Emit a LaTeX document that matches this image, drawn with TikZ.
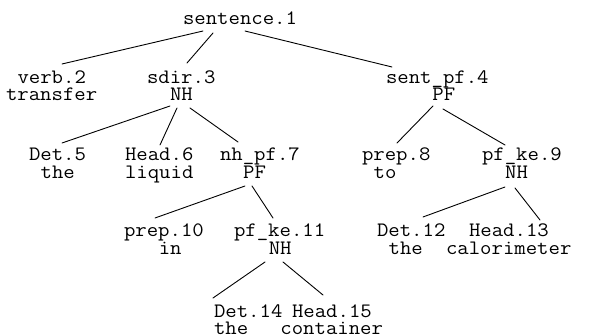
\documentclass[tikz,border=0pt]{standalone}
\usepackage{fontspec}
\usepackage{graphicx}

% one text line of the parse tree, stretched typewriter type
\newcommand\wide[1]{\scalebox{1.08}[1]{#1}}

\tikzset{
  lbl/.style={anchor=base west, inner sep=0pt, outer sep=0pt,
              font=\ttfamily\fontsize{20.5}{20.5}\selectfont\addfontfeatures{FakeBold=1.2}},
  link/.style={line width=0.9pt, line cap=round}
}

% connector from a point on one label to a point on another,
% offsets measured from each label's base west anchor
\newcommand\branch[6]{%
  \draw[link] ([shift={(#2,#3)}]#1.base west) -- ([shift={(#5,#6)}]#4.base west);}

\begin{document}
\begin{tikzpicture}[x=1pt, y=-1pt]
  \useasboundingbox (0,0) rectangle (599,336);

  % level 1
  \node[lbl] (s1)  at (183,25)   {\wide{sentence.1}};

  % level 2
  \node[lbl] (v2)  at (17.5,84)  {\wide{verb.2}};
  \node[lbl] (v2c) at (6,101)    {\wide{transfer}};
  \node[lbl] (d3)  at (147,84)   {\wide{sdir.3}};
  \node[lbl] (d3c) at (170,101)  {\wide{NH}};
  \node[lbl] (p4)  at (386,84)   {\wide{sent\_pf.4}};
  \node[lbl] (p4c) at (432.4,101){\wide{PF}};

  % level 3
  \node[lbl] (t5)  at (29,161)   {\wide{Det.5}};
  \node[lbl] (t5c) at (40.6,179) {\wide{the}};
  \node[lbl] (h6)  at (125,161)  {\wide{Head.6}};
  \node[lbl] (h6c) at (125,179)  {\wide{liquid}};
  \node[lbl] (n7)  at (220,161)  {\wide{nh\_pf.7}};
  \node[lbl] (n7c) at (243.2,179){\wide{PF}};
  \node[lbl] (r8)  at (362,161)  {\wide{prep.8}};
  \node[lbl] (r8c) at (373.6,179){\wide{to}};
  \node[lbl] (k9)  at (482,161)  {\wide{pf\_ke.9}};
  \node[lbl] (k9c) at (505.2,179){\wide{NH}};

  % level 4
  \node[lbl] (r10)  at (124,237)   {\wide{prep.10}};
  \node[lbl] (r10c) at (158.8,255) {\wide{in}};
  \node[lbl] (k11)  at (234,237)   {\wide{pf\_ke.11}};
  \node[lbl] (k11c) at (268.8,255) {\wide{NH}};
  \node[lbl] (t12)  at (377,237)   {\wide{Det.12}};
  \node[lbl] (t12c) at (388.6,255) {\wide{the}};
  \node[lbl] (h13)  at (469,237)   {\wide{Head.13}};
  \node[lbl] (h13c) at (446,255)   {\wide{calorimeter}};

  % level 5
  \node[lbl] (t14)  at (214,317.5) {\wide{Det.14}};
  \node[lbl] (t14c) at (214,334)   {\wide{the}};
  \node[lbl] (h15)  at (292,317.5) {\wide{Head.15}};
  \node[lbl] (h15c) at (280.4,334) {\wide{container}};

  % branches
  \branch{s1}{20}{6}{v2}{44.5}{-20}
  \branch{s1}{30}{8}{d3}{40}{-21}
  \branch{s1}{62}{6}{p4}{6}{-17}

  \branch{d3c}{0}{5}{t5}{33}{-18}
  \branch{d3c}{7}{7}{h6}{35}{-16}
  \branch{d3c}{20}{7}{n7}{18}{-19}

  \branch{p4c}{0.6}{5}{r8}{35}{-18}
  \branch{p4c}{10.6}{8}{k9}{23}{-16}

  \branch{n7c}{1.8}{7}{r10}{31}{-19}
  \branch{n7c}{8.8}{7}{k11}{39}{-19}

  \branch{k9c}{-0.2}{8}{t12}{46}{-20}
  \branch{k9c}{9.8}{9}{h13}{71}{-17}

  \branch{k11c}{-3.8}{7}{t14}{-1}{-19.5}
  \branch{k11c}{14.2}{7}{h15}{31}{-22.5}
\end{tikzpicture}
\end{document}
